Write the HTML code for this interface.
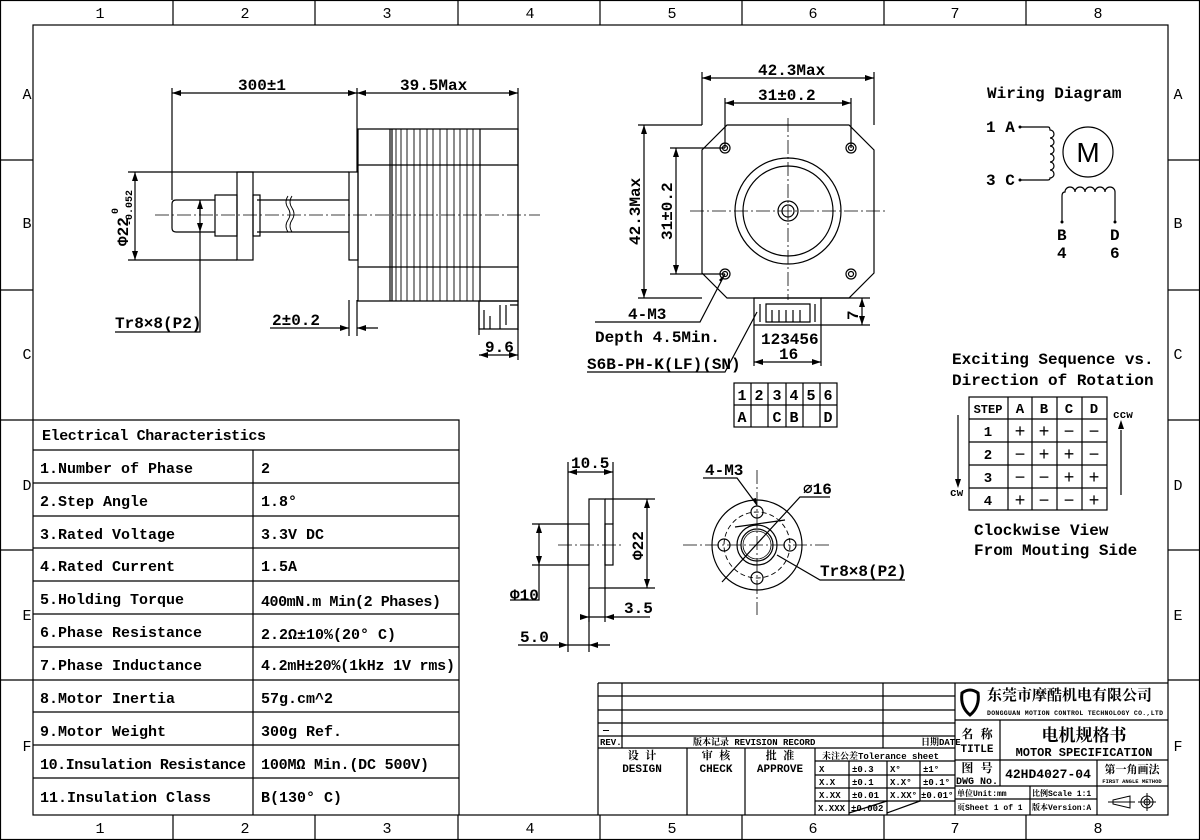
<!DOCTYPE html>
<html><head><meta charset="utf-8"><style>
html,body{margin:0;padding:0;background:#fff;}
svg{display:block;}
text{font-family:"Liberation Mono","Noto Serif CJK SC",monospace;fill:#000;}
.s{font-family:"Liberation Sans","Noto Sans CJK SC",sans-serif;}
.b{font-weight:bold;}
</style></head><body>
<svg width="1200" height="840" viewBox="0 0 1200 840" xmlns="http://www.w3.org/2000/svg">
<rect x="0" y="0" width="1200" height="840" fill="#fff"/>
<g stroke="#000" stroke-width="1.2" fill="none">
<!-- frame -->
<rect x="0.5" y="0.5" width="1199" height="839"/>
<rect x="33" y="25" width="1135" height="790"/>
<path d="M173,0V25M315,0V25M458,0V25M600,0V25M742,0V25M884,0V25M1026,0V25M173,815V840M315,815V840M458,815V840M600,815V840M742,815V840M884,815V840M1026,815V840"/>
<path d="M0,160H33M0,290H33M0,420H33M0,550H33M0,680H33M1168,160H1200M1168,290H1200M1168,420H1200M1168,550H1200M1168,680H1200"/>
</g>
<g font-size="15" text-anchor="middle" class="s">
<text x="100" y="18">1</text><text x="245" y="18">2</text><text x="387" y="18">3</text><text x="530" y="18">4</text><text x="672" y="18">5</text><text x="813" y="18">6</text><text x="955" y="18">7</text><text x="1098" y="18">8</text>
<text x="100" y="833">1</text><text x="245" y="833">2</text><text x="387" y="833">3</text><text x="530" y="833">4</text><text x="672" y="833">5</text><text x="813" y="833">6</text><text x="955" y="833">7</text><text x="1098" y="833">8</text>
<text x="27" y="99">A</text><text x="27" y="228">B</text><text x="27" y="359">C</text><text x="27" y="490">D</text><text x="27" y="620">E</text><text x="27" y="751">F</text>
<text x="1178" y="99">A</text><text x="1178" y="228">B</text><text x="1178" y="359">C</text><text x="1178" y="490">D</text><text x="1178" y="620">E</text><text x="1178" y="751">F</text>
</g>

<!-- ===== Side view ===== -->
<g stroke="#000" stroke-width="1.2" fill="none">
<path d="M172,88V200M357,88V172M518,88V330"/>
<path d="M172,93H357M357,93H518"/>
<path d="M358,129H518V301H358Z"/>
<path d="M390,129V301M392,129V301M480,129V301M358,165H518M358,267H518"/>
<path d="M396,129V301M401,129V301M407,129V301M414,129V301M420,129V301M427,129V301M433,129V301M440,129V301M447,129V301M454,129V301M460,129V301M467,129V301M473,129V301" stroke-width="0.9"/>
<rect x="349" y="172" width="9" height="88"/>
<path d="M257,200H349M257,232H349"/>
<path d="M288,196q-4,6 0,12t0,12q-4,6 0,12M292,196q-4,6 0,12t0,12q-4,6 0,12" stroke-width="0.9"/>
<rect x="237" y="172" width="16" height="88"/>
<rect x="215" y="195" width="22" height="41"/>
<rect x="253" y="195" width="7" height="41"/>
<path d="M215,200H176Q172,200 172,204V228Q172,232 176,232H215"/>
<path d="M155,215H540" stroke-dasharray="14,3,2,3" stroke-width="0.8"/>
<path d="M128,172H349M128,260H237M135,172V260"/>
<path d="M200,200V332H115"/>
<path d="M200,200V215"/>
<path d="M270,328H349M357,328H378M349,300V336M357,300V336"/>
<path d="M479,301H518V329H479Z"/>
<path d="M479,301V335M518,329V360M479,355H518"/>
<path d="M484,310V329M490,316V329M500,305V329M506,305V325M510,305H518"/>
</g>
<g fill="#000">
<path d="M172,93l9,-3v6zM357,93l-9,-3v6zM357,93l9,-3v6zM518,93l-9,-3v6z"/>
<path d="M135,172l-3,9h6zM135,260l-3,-9h6z"/>
<path d="M200,200l-3,9h6zM200,232l-3,-9h6z"/>
<path d="M349,328l-9,-3v6zM357,328l9,-3v6z"/>
<path d="M479,355l9,-3v6zM518,355l-9,-3v6z"/>
</g>
<g font-size="16" class="b">
<text x="238" y="90" font-family="Liberation Serif">300±1</text>
<text x="400" y="90">39.5Max</text>
<text x="115" y="328">Tr8×8(P2)</text>
<text x="272" y="325">2±0.2</text>
<text x="485" y="352">9.6</text>
<text transform="translate(128,246) rotate(-90)" font-family="Liberation Sans">Φ22</text>
<text transform="translate(118,214) rotate(-90)" font-size="10" font-family="Liberation Sans">0</text>
<text transform="translate(132,226) rotate(-90)" font-size="10" font-family="Liberation Sans">-0.052</text>
</g>

<!-- ===== Front view ===== -->
<g stroke="#000" stroke-width="1.2" fill="none">
<path d="M702,72V125M874,72V125M725,98V148M851,98V148M702,78H874M725,103H851"/>
<path d="M727,125H849L874,150V273L849,298H727L702,273V150Z"/>
<circle cx="788" cy="211" r="53"/><circle cx="788" cy="211" r="45"/>
<circle cx="788" cy="211" r="10"/><circle cx="788" cy="211" r="6"/>
<circle cx="725" cy="148" r="5"/><circle cx="851" cy="148" r="5"/><circle cx="725" cy="274" r="5"/><circle cx="851" cy="274" r="5"/>
<circle cx="725" cy="148" r="2.5"/><circle cx="851" cy="148" r="2.5"/><circle cx="725" cy="274" r="2.5"/><circle cx="851" cy="274" r="2.5"/>
<path d="M690,211H885M788,118V300" stroke-dasharray="14,3,2,3" stroke-width="0.8"/>
<path d="M638,125H702M638,298H702M644,125V298M670,148H725M670,274H725M676,148V274"/>
<path d="M754,298H821V325H754Z"/>
<path d="M766,304H810V322H766Z M772,310V322M779,310V322M786,310V322M793,310V322M800,310V322M760,304V322M815,304V322"/>
<path d="M821,298H870M821,325H870M862,298V325"/>
<path d="M754,325V366M821,325V366M754,362H821"/>
<path d="M725,274L700,322H595"/>
<path d="M587,372H725L757,312"/>
<rect x="734" y="383" width="103" height="44"/>
<path d="M734,405H837M751,383V427M768,383V427M786,383V427M803,383V427M820,383V427"/>
</g>
<g fill="#000">
<path d="M702,78l9,-3v6zM874,78l-9,-3v6zM725,103l9,-3v6zM851,103l-9,-3v6z"/>
<path d="M644,125l-3,9h6zM644,298l-3,-9h6zM676,148l-3,9h6zM676,274l-3,-9h6z"/>
<path d="M862,298l-3,9h6zM862,325l-3,-9h6z"/>
<path d="M754,362l9,-3v6zM821,362l-9,-3v6z"/>
<path d="M725,274l-6,6l2,2z"/>
</g>
<g font-size="16" class="b">
<text x="758" y="75">42.3Max</text>
<text x="758" y="100" font-family="Liberation Serif">31±0.2</text>
<text transform="translate(640,245) rotate(-90)">42.3Max</text>
<text transform="translate(672,240) rotate(-90)" font-family="Liberation Serif">31±0.2</text>
<text transform="translate(858,320) rotate(-90)">7</text>
<text x="761" y="344">123456</text>
<text x="779" y="359">16</text>
<text x="628" y="319">4-M3</text>
<text x="595" y="342">Depth 4.5Min.</text>
<text x="587" y="369">S6B-PH-K(LF)(SN)</text>
</g>
<g font-size="15" class="b" text-anchor="middle" font-family="Liberation Serif">
<text x="742" y="400">1</text><text x="759" y="400">2</text><text x="777" y="400">3</text><text x="794" y="400">4</text><text x="811" y="400">5</text><text x="828" y="400">6</text>
<text x="742" y="422">A</text><text x="777" y="422">C</text><text x="794" y="422">B</text><text x="828" y="422">D</text>
</g>

<!-- ===== Wiring ===== -->
<g stroke="#000" stroke-width="1.2" fill="none">
<circle cx="1088" cy="152" r="25"/>
<path d="M1020,127H1048Q1050,127 1050,130a4,4 0 0 1 0,8a4,4 0 0 1 0,8a4,4 0 0 1 0,8a4,4 0 0 1 0,8a4,4 0 0 1 0,8a4,4 0 0 1 0,8Q1050,180 1048,180H1020"/>
<path d="M1062,222V196Q1062,192 1065,192a5,5 0 0 1 10,0a5,5 0 0 1 10,0a5,5 0 0 1 10,0a5,5 0 0 1 10,0a5,5 0 0 1 10,0V222"/>
<rect x="969" y="397" width="138" height="113"/>
<path d="M969,419H1107M969,442H1107M969,465H1107M969,488H1107M1008,397V510M1032,397V510M1057,397V510M1082,397V510"/>
<path d="M958,415V485M1121,430V495"/>
</g>
<g fill="#000">
<circle cx="1020" cy="127" r="1.5"/><circle cx="1020" cy="180" r="1.5"/><circle cx="1062" cy="222" r="1.5"/><circle cx="1115" cy="222" r="1.5"/>
<path d="M958,488l-3,-9h6zM1121,420l-3,9h6z"/>
</g>
<text x="1088" y="162" font-size="28" text-anchor="middle" class="s">M</text>
<g font-size="16" class="b">
<text x="987" y="98">Wiring Diagram</text>
<text x="986" y="132">1 A</text><text x="986" y="185">3 C</text>
<text x="1057" y="240">B</text><text x="1057" y="258">4</text>
<text x="1110" y="240">D</text><text x="1110" y="258">6</text>
<text x="952" y="364">Exciting Sequence vs.</text>
<text x="952" y="385">Direction of Rotation</text>
<text x="974" y="535">Clockwise View</text>
<text x="974" y="555">From Mouting Side</text>
<text x="950" y="496" font-size="11">cw</text>
<text x="1113" y="418" font-size="11">ccw</text>
</g>
<g font-size="14" class="b" text-anchor="middle" font-family="Liberation Serif">
<text x="988" y="413" font-size="12">STEP</text><text x="1020" y="413">A</text><text x="1044" y="413">B</text><text x="1069" y="413">C</text><text x="1094" y="413">D</text>
<text x="988" y="436">1</text><text x="988" y="459">2</text><text x="988" y="482">3</text><text x="988" y="505">4</text>
</g>
<g font-size="18" text-anchor="middle" font-family="Liberation Sans">
<text x="1020" y="437">+</text><text x="1044" y="437">+</text><text x="1069" y="437">−</text><text x="1094" y="437">−</text>
<text x="1020" y="460">−</text><text x="1044" y="460">+</text><text x="1069" y="460">+</text><text x="1094" y="460">−</text>
<text x="1020" y="483">−</text><text x="1044" y="483">−</text><text x="1069" y="483">+</text><text x="1094" y="483">+</text>
<text x="1020" y="506">+</text><text x="1044" y="506">−</text><text x="1069" y="506">−</text><text x="1094" y="506">+</text>
</g>

<!-- ===== Nut views ===== -->
<g stroke="#000" stroke-width="1.2" fill="none">
<rect x="568" y="524" width="21" height="41"/>
<rect x="589" y="499" width="16" height="89"/>
<rect x="605" y="524" width="8" height="41"/>
<path d="M558,545H622M683,545H832M757,470V615" stroke-dasharray="14,3,2,3" stroke-width="0.8"/>
<path d="M568,462V652M613,462V524M568,472H613"/>
<path d="M605,499H655M605,588H655M647,499V588"/>
<path d="M532,524H568M532,565H568M539,524V600H510"/>
<path d="M589,588V622M605,588V622M580,617H650"/>
<path d="M589,588V652M518,645H610"/>
<circle cx="757" cy="545" r="45"/>
<circle cx="757" cy="545" r="33" stroke-dasharray="5,3" stroke-width="0.9"/>
<circle cx="757" cy="545" r="20"/><circle cx="757" cy="545" r="16"/><circle cx="757" cy="545" r="14" stroke-width="0.8"/>
<circle cx="757" cy="512" r="6"/><circle cx="724" cy="545" r="6"/><circle cx="790" cy="545" r="6"/><circle cx="757" cy="578" r="6"/>
<path d="M703,478H737L757,505"/>
<path d="M830,497H800L722,582M785,520L735,527"/>
<path d="M905,580H820L777,555"/>
</g>
<g fill="#000">
<path d="M568,472l9,-3v6zM613,472l-9,-3v6z"/>
<path d="M647,499l-3,9h6zM647,588l-3,-9h6z"/>
<path d="M539,524l-3,9h6zM539,565l-3,-9h6z"/>
<path d="M589,617l-9,-3v6zM605,617l9,-3v6z"/>
<path d="M568,645l-9,-3v6zM589,645l9,-3v6z"/>
<path d="M757,506l-5,-7l4,-1z"/>
</g>
<g font-size="16" class="b">
<text x="571" y="468">10.5</text>
<text transform="translate(643,560) rotate(-90)" font-family="Liberation Sans">Φ22</text>
<text x="510" y="600" font-family="Liberation Sans">Φ10</text>
<text x="624" y="613">3.5</text>
<text x="520" y="642">5.0</text>
<text x="705" y="475">4-M3</text>
<text x="803" y="494" font-family="Liberation Sans">⌀16</text>
<text x="820" y="576">Tr8×8(P2)</text>
</g>

<!-- ===== Electrical table ===== -->
<g stroke="#000" stroke-width="1.2" fill="none">
<path d="M33,420H459V815M33,450H459M33,483H459M33,516H459M33,548H459M33,581H459M33,614H459M33,647H459M33,680H459M33,712H459M33,745H459M33,778H459M253,450V815"/>
</g>
<g font-size="15" font-family="Liberation Mono" class="b">
<text x="42" y="440" textLength="224">Electrical Characteristics</text>
<text x="40" y="473">1.Number of Phase</text><text x="261" y="473">2</text>
<text x="40" y="506">2.Step Angle</text><text x="261" y="506">1.8°</text>
<text x="40" y="539">3.Rated Voltage</text><text x="261" y="539">3.3V DC</text>
<text x="40" y="571">4.Rated Current</text><text x="261" y="571">1.5A</text>
<text x="40" y="604">5.Holding Torque</text><text x="261" y="606" textLength="180">400mN.m Min(2 Phases)</text>
<text x="40" y="637">6.Phase Resistance</text><text x="261" y="639">2.2Ω±10%(20° C)</text>
<text x="40" y="670">7.Phase Inductance</text><text x="261" y="670" textLength="194">4.2mH±20%(1kHz 1V rms)</text>
<text x="40" y="703">8.Motor Inertia</text><text x="261" y="703">57g.cm^2</text>
<text x="40" y="736">9.Motor Weight</text><text x="261" y="736">300g Ref.</text>
<text x="40" y="769" textLength="206">10.Insulation Resistance</text><text x="261" y="769" textLength="168">100MΩ Min.(DC 500V)</text>
<text x="40" y="802">11.Insulation Class</text><text x="261" y="802">B(130° C)</text>
</g>

<!-- ===== Title block ===== -->
<g stroke="#000" stroke-width="1.2" fill="none">
<path d="M598,683H1168M598,683V815"/>
<path d="M598,696H955M598,710H955M598,723H955M598,736H955M598,748H955"/>
<path d="M622,683V748M883,683V748M955,683V815"/>
<path d="M687,748V815M745,748V815M815,748V815M815,761H955M815,775H955M815,788H955M815,801H955M849,761V815M887,761V815M920,761V801"/>
<path d="M849,813L887,801M887,813L920,801"/>
<path d="M955,720H1168M1000,720V786M955,760H1168M955,786H1168M955,799H1097M1097,760V815M1030,786V815"/>
</g>
<g class="b">
<text x="603" y="733" font-size="10">—</text>
<text x="600" y="745" font-size="9" font-family="Liberation Serif">REV.</text>
<text x="693" y="745" font-size="9" font-family="Liberation Serif, Noto Serif CJK SC">版本记录 REVISION RECORD</text>
<text x="921" y="745" font-size="9" font-family="Liberation Serif, Noto Serif CJK SC">日期DATE</text>
<g font-size="11" text-anchor="middle" font-family="Liberation Serif, Noto Sans CJK SC">
<text x="642" y="759">设 计</text><text x="642" y="772">DESIGN</text>
<text x="716" y="759">审 核</text><text x="716" y="772">CHECK</text>
<text x="780" y="759">批 准</text><text x="780" y="772">APPROVE</text>
</g>
<g font-size="9" font-family="Liberation Serif, Noto Serif CJK SC">
<text x="822" y="759">未注公差Tolerance sheet</text>
<text x="819" y="772">X</text><text x="852" y="772">±0.3</text><text x="890" y="772">X°</text><text x="923" y="772">±1°</text>
<text x="819" y="785">X.X</text><text x="852" y="785">±0.1</text><text x="890" y="785">X.X°</text><text x="923" y="785">±0.1°</text>
<text x="819" y="798">X.XX</text><text x="852" y="798">±0.01</text><text x="890" y="798">X.XX°</text><text x="921" y="798">±0.01°</text>
<text x="818" y="811">X.XXX</text><text x="851" y="811">±0.002</text>
</g>
<g fill="none" stroke="#000" stroke-width="3"><path d="M962,693q8,-6 16,0q2,14 -8,22q-10,-8 -8,-22z"/></g>
<text x="987" y="700" font-size="15" font-family="Noto Sans CJK SC, sans-serif">东莞市摩酷机电有限公司</text>
<text x="987" y="715" font-size="6.5" font-family="Liberation Sans" textLength="176">DONGGUAN MOTION CONTROL TECHNOLOGY CO.,LTD</text>
<text x="977" y="738" font-size="12" text-anchor="middle" font-family="Noto Sans CJK SC, sans-serif">名 称</text>
<text x="977" y="752" font-size="11" text-anchor="middle" font-family="Liberation Serif">TITLE</text>
<text x="1084" y="741" font-size="17" text-anchor="middle" font-family="Noto Sans CJK SC, sans-serif">电机规格书</text>
<text x="1084" y="756" font-size="12" text-anchor="middle" font-family="Liberation Serif">MOTOR SPECIFICATION</text>
<text x="977" y="772" font-size="12" text-anchor="middle" font-family="Noto Sans CJK SC, sans-serif">图 号</text>
<text x="977" y="784" font-size="10" text-anchor="middle" font-family="Liberation Serif">DWG No.</text>
<text x="1048" y="778" font-size="13" text-anchor="middle" font-family="Liberation Mono">42HD4027-04</text>
<text x="1132" y="773" font-size="11" text-anchor="middle" font-family="Noto Sans CJK SC, sans-serif">第一角画法</text>
<text x="1132" y="783" font-size="5.5" text-anchor="middle" font-family="Liberation Sans">FIRST ANGLE METHOD</text>
<text x="957" y="796" font-size="8" font-family="Liberation Serif, Noto Sans CJK SC">单位Unit:mm</text>
<text x="1032" y="796" font-size="8" font-family="Liberation Serif, Noto Sans CJK SC">比例Scale 1:1</text>
<text x="957" y="810" font-size="8" font-family="Liberation Serif, Noto Sans CJK SC">页Sheet 1 of 1</text>
<text x="1032" y="810" font-size="8" font-family="Liberation Serif, Noto Sans CJK SC">版本Version:A</text>
</g>
<g stroke="#000" stroke-width="1" fill="none">
<path d="M1113,800L1130,796V808L1113,804Z M1108,802H1135"/>
<circle cx="1147" cy="802" r="6"/><circle cx="1147" cy="802" r="3"/>
<path d="M1138,802H1156M1147,793V811"/>
</g>
</svg>
</body></html>
